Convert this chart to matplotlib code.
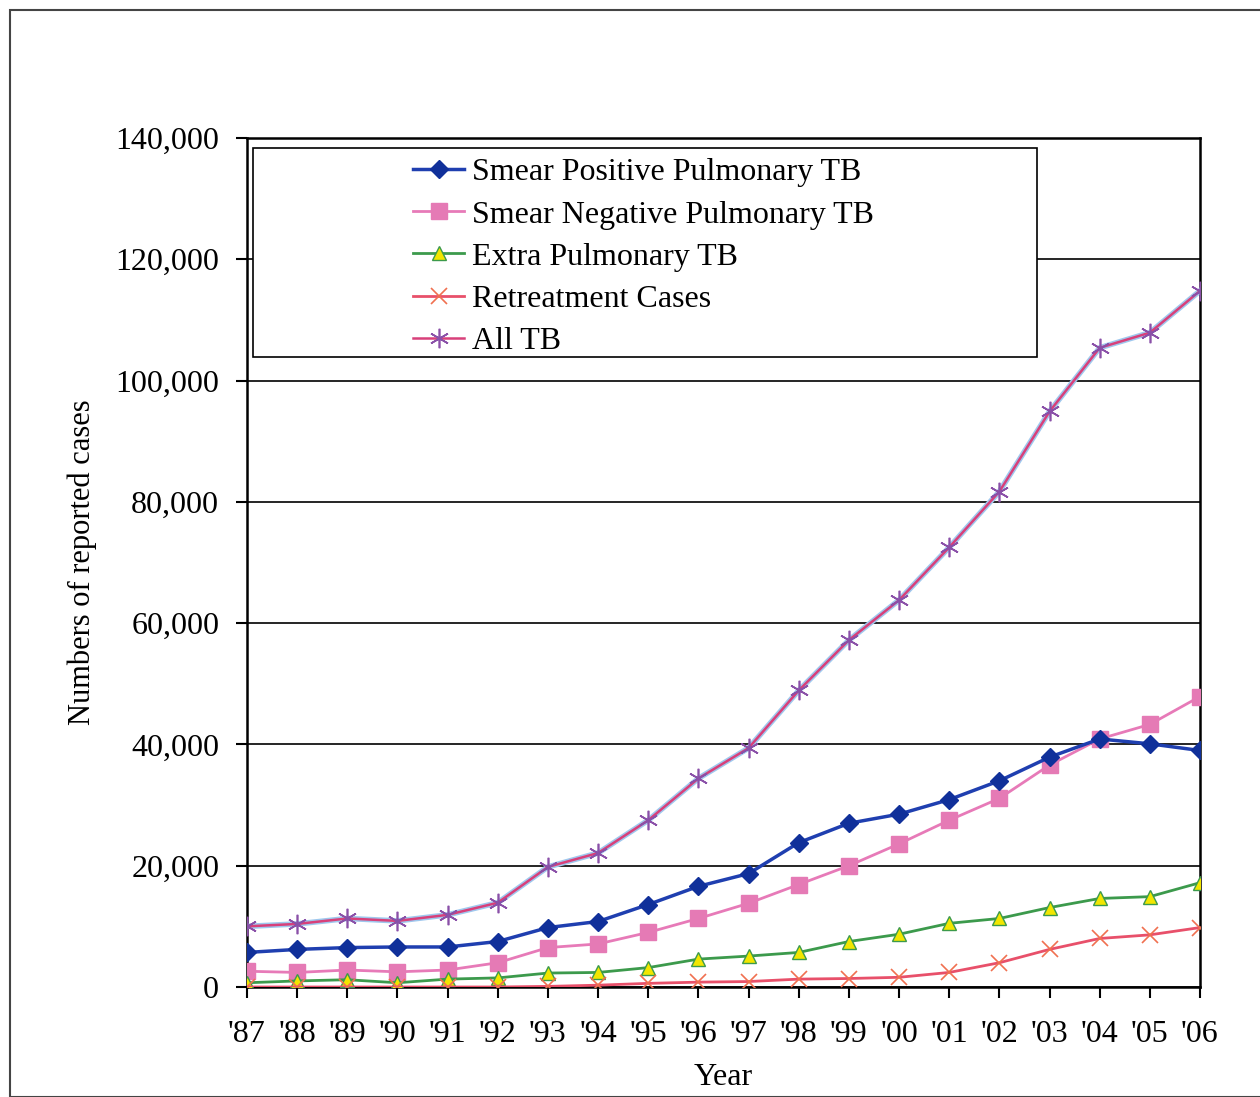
import matplotlib
matplotlib.use("Agg")
import matplotlib.pyplot as plt
from matplotlib.patches import Rectangle
from matplotlib.ticker import FuncFormatter

# Reported TB cases by year
years = ["'87", "'88", "'89", "'90", "'91", "'92", "'93", "'94", "'95", "'96",
         "'97", "'98", "'99", "'00", "'01", "'02", "'03", "'04", "'05", "'06"]

smear_pos = [5700, 6200, 6500, 6600, 6600, 7500, 9800, 10800, 13600, 16600,
             18700, 23800, 27000, 28500, 30900, 34000, 37900, 40900, 40100, 39000]
smear_neg = [2600, 2400, 2800, 2500, 2800, 4000, 6500, 7100, 9000, 11300,
             13800, 16900, 20000, 23600, 27500, 31100, 36600, 40900, 43300, 47900]
extra_pulm = [700, 1000, 1200, 700, 1300, 1500, 2300, 2400, 3200, 4600,
              5100, 5700, 7500, 8700, 10500, 11300, 13100, 14600, 14900, 17200]
retreat = [0, 0, 0, 0, 0, 0, 100, 300, 600, 800,
           900, 1300, 1400, 1600, 2400, 4000, 6200, 8000, 8600, 9800]
all_tb = [10000, 10400, 11300, 10900, 11900, 13900, 19800, 22100, 27500, 34400,
          39400, 48900, 57200, 63800, 72500, 81700, 94900, 105400, 107900, 114800]

plt.rcParams['font.family'] = ['Liberation Serif', 'DejaVu Serif']

fig = plt.figure(figsize=(12.6, 10.97), dpi=100)
ax = fig.add_axes([247 / 1260, 1 - 987 / 1097, (1200 - 247) / 1260, (987 - 138) / 1097])

x = list(range(len(years)))

ax.plot(x, smear_pos, color='#1f3fb0', lw=2.5, marker='D', ms=9,
        mfc='#10309a', mec='#10309a', label='Smear Positive Pulmonary TB', zorder=5)
ax.plot(x, smear_neg, color='#e77ab8', lw=2, marker='s', ms=11,
        mfc='#e57ab5', mec='#e57ab5', label='Smear Negative Pulmonary TB', zorder=4)
ax.plot(x, extra_pulm, color='#3c9a4c', lw=2, marker='^', ms=10,
        mfc='#f2e600', mec='#3c9a4c', label='Extra Pulmonary TB', zorder=4)
ax.plot(x, retreat, color='#e8506a', lw=2, marker='x', ms=11, mew=1.2,
        mfc='none', mec='#f07050', label='Retreatment Cases', zorder=4)
ax.plot(x, all_tb, color='#9fc8ee', lw=4, zorder=3)
ax.plot(x, all_tb, color='#d8407a', lw=1.8, marker=(6, 2, 0), ms=14, mew=1.2,
        mec='#8a50a8', label='All TB', zorder=4)

ax.set_xlim(0, 19)
ax.set_ylim(0, 140000)
ax.set_yticks(range(0, 140001, 20000))
ax.yaxis.set_major_formatter(FuncFormatter(lambda v, p: f"{int(v):,}"))
ax.set_xticks(x)
ax.set_xticklabels(years)
ax.tick_params(axis='both', labelsize=23, direction='out', length=8, width=1.5, colors='black')
ax.tick_params(axis='y', pad=12)
ax.tick_params(axis='x', pad=16)
ax.grid(axis='y', color='black', lw=1.2)
ax.set_axisbelow(True)
for s in ax.spines.values():
    s.set_linewidth(1.8)
    s.set_color('black')

ax.set_xlabel('Year', fontsize=23, labelpad=10)
ax.set_ylabel('Numbers of reported cases', fontsize=22, labelpad=13)

# legend box (wider than its contents, as in the original)
ax.add_patch(Rectangle((6 / 953, (987 - 357) / 849), (1037 - 253) / 953, (357 - 148) / 849,
                       transform=ax.transAxes, facecolor='white', edgecolor='black',
                       lw=1.2, zorder=6, clip_on=False))
leg = ax.legend(loc='upper left', bbox_to_anchor=((413 - 247) / 953, (987 - 158) / 849),
                fontsize=23, frameon=False, borderpad=0, labelspacing=0.4,
                handlelength=1.6, handletextpad=0.25, borderaxespad=0)
leg.set_zorder(7)

# outer frame of the scanned figure
fig.patches.append(Rectangle((10 / 1260, 0), 1.0, 1 - 10 / 1097, transform=fig.transFigure,
                             fill=False, edgecolor='#444444', lw=1.5))

fig.savefig('out.png', dpi=100)
